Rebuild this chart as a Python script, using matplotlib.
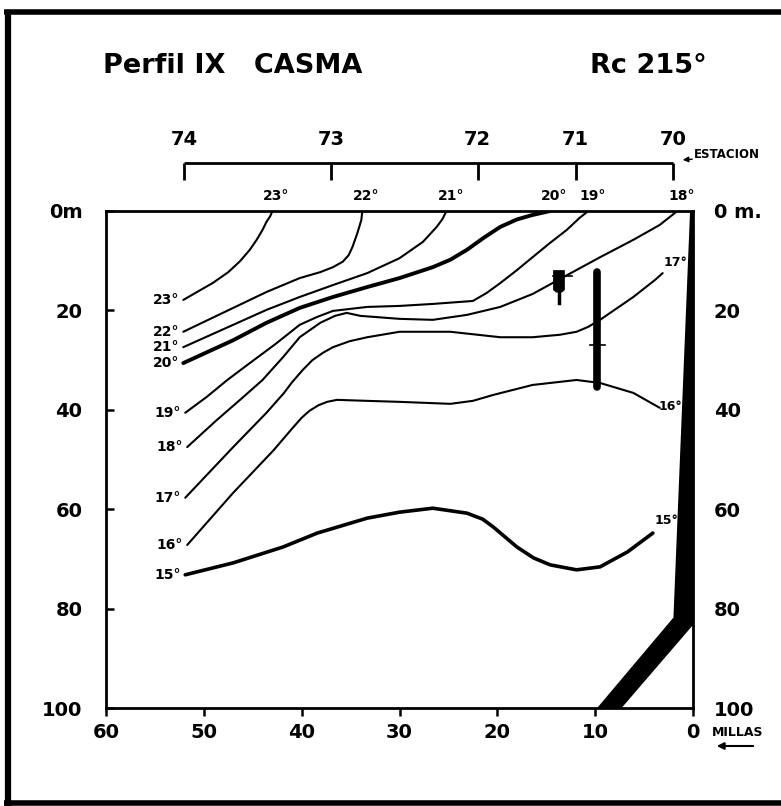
import matplotlib
matplotlib.use('Agg')
import matplotlib.pyplot as plt
from matplotlib.lines import Line2D

W, H = 781, 806
plt.rcParams['font.family'] = ['DejaVu Sans']

# ---------------- data ----------------
title_left = 'Perfil IX   CASMA'
title_right = 'Rc 215°'

stations = ['74', '73', '72', '71', '70']
station_miles = [52, 37, 22, 12, 2]

depth_ticks = [0, 20, 40, 60, 80, 100]
left_depth_labels = ['0m', '20', '40', '60', '80', '100']
right_depth_labels = ['0 m.', '20', '40', '60', '80', '100']
mile_ticks = [60, 50, 40, 30, 20, 10, 0]
mile_labels = ['60', '50', '40', '30', '20', '10', '0']

# isotherms (miles from coast, depth m)
iso23_m = [52.1, 50.7, 49.1, 47.5, 46.3, 45.3, 44.6, 44.0, 43.6, 43.2, 43.0]
iso23_d = [17.9, 16.3, 14.5, 12.3, 10.1, 7.8, 5.8, 3.8, 2.2, 1.0, 0.0]

iso22_m = [52.1, 47.0, 43.6, 40.2, 38.1, 36.8, 35.8, 35.2, 34.8, 34.3, 33.9, 33.8]
iso22_d = [24.3, 19.5, 16.3, 13.5, 12.3, 11.3, 10.2, 8.9, 7.2, 4.4, 1.8, 0.0]

iso21_m = [52.1, 47.0, 43.6, 40.2, 36.8, 33.3, 30.0, 27.6, 26.2, 25.6, 25.2]
iso21_d = [27.4, 22.9, 19.9, 17.3, 14.9, 12.5, 9.5, 6.2, 3.2, 1.6, 0.0]

iso20_m = [52.1, 47.0, 43.6, 40.2, 36.8, 33.3, 30.0, 26.6, 24.8, 23.1, 21.4, 19.7,
           18.0, 16.4, 14.6]
iso20_d = [30.6, 26.0, 22.5, 19.5, 17.3, 15.3, 13.5, 11.3, 9.8, 7.8, 5.4, 3.2,
           1.7, 0.8, 0.0]

iso19_m = [51.9, 49.7, 47.6, 45.3, 42.7, 40.2, 38.4, 36.8, 33.3, 30.0, 26.6, 22.5,
           21.1, 19.7, 18.0, 16.4, 14.6, 12.9, 11.6, 10.7]
iso19_d = [40.6, 37.4, 34.0, 30.6, 26.8, 22.9, 21.3, 20.1, 19.3, 19.1, 18.7, 18.1,
           16.5, 14.5, 11.9, 9.3, 6.4, 3.8, 1.4, 0.0]

iso18_m = [51.7, 48.7, 46.3, 44.0, 41.9, 40.2, 38.1, 36.6, 35.4, 34.0, 30.0, 26.6,
           23.1, 19.7, 16.4, 13.8, 9.5, 6.1, 3.4, 1.6]
iso18_d = [47.5, 42.1, 38.0, 34.0, 29.4, 25.4, 22.5, 21.1, 20.5, 21.1, 21.7, 21.9,
           20.9, 19.3, 16.7, 13.9, 9.3, 5.8, 2.8, 0.0]

iso17_m = [51.9, 47.0, 43.6, 41.8, 41.0, 39.9, 38.9, 37.8, 36.8, 35.1, 33.3, 30.0,
           24.8, 19.7, 16.4, 13.6, 11.9, 10.7, 9.5, 6.1, 3.9, 3.1]
iso17_d = [57.7, 47.5, 40.6, 36.6, 34.5, 32.0, 30.0, 28.5, 27.4, 26.2, 25.4, 24.3,
           24.3, 25.4, 25.4, 24.9, 24.3, 23.3, 21.9, 17.3, 13.9, 12.5]

iso16_m = [51.7, 47.0, 42.9, 40.9, 40.0, 39.2, 38.3, 37.4, 36.4, 33.3, 30.0,
           24.8, 22.5, 20.4, 16.4, 11.9, 9.5, 6.1, 3.4]
iso16_d = [67.2, 56.7, 48.2, 43.6, 41.6, 40.2, 39.1, 38.4, 38.0, 38.2, 38.4,
           38.8, 38.2, 37.0, 35.0, 34.0, 34.6, 36.6, 39.6]

iso15_m = [51.9, 47.0, 41.9, 38.4, 33.3, 30.0, 26.6, 23.1, 21.5, 20.4, 18.0, 16.3,
           14.6, 11.9, 9.5, 6.7, 4.1]
iso15_d = [73.2, 70.8, 67.6, 64.8, 61.8, 60.6, 59.8, 60.8, 62.0, 63.6, 67.6, 69.8,
           71.2, 72.2, 71.6, 68.6, 64.8]

# coast / bottom profile
coast_m = [0.3, 2.0, 9.8, 7.3, 0.0, 0.0]
coast_d = [0.0, 81.8, 100.0, 100.0, 83.3, 0.0]

# sampling marks near station 71
cast_m = [9.8, 9.8]
cast_d = [12.3, 35.4]
cast_tick_d = 27.0
bottle_m = [14.3, 13.1, 13.1, 13.4, 14.0, 14.3]
bottle_d = [11.9, 11.9, 15.9, 16.4, 16.4, 15.9]
bottle_stem_m = [13.7, 13.7]
bottle_stem_d = [16.0, 18.6]
bottle_tick_d = 13.1

# ---------------- figure ----------------
fig = plt.figure(figsize=(W / 100, H / 100), dpi=100)

def px(x, y):
    return x / W, 1 - y / H

ax_l, ax_r, ax_t, ax_b = 106, 693, 211, 708
ax = fig.add_axes([ax_l / W, 1 - ax_b / H, (ax_r - ax_l) / W, (ax_b - ax_t) / H])
ax.set_xlim(60, 0)
ax.set_ylim(100, 0)
for s in ax.spines.values():
    s.set_linewidth(2.0)
    s.set_color('black')

ax.set_xticks(mile_ticks)
ax.set_xticklabels(mile_labels)
ax.set_yticks(depth_ticks)
ax.set_yticklabels(left_depth_labels)
ax.tick_params(axis='x', direction='out', length=6, width=1.8, pad=5,
               labelsize=14)
ax.tick_params(axis='y', direction='in', length=6, width=1.8, pad=17,
               labelsize=14)
for lab in ax.get_xticklabels() + ax.get_yticklabels():
    lab.set_fontweight('bold')

ax2 = ax.twinx()
ax2.set_ylim(100, 0)
ax2.set_yticks(depth_ticks)
ax2.set_yticklabels(right_depth_labels)
ax2.tick_params(axis='y', length=0, pad=15, labelsize=14)
for lab in ax2.get_yticklabels():
    lab.set_fontweight('bold')
for s in ax2.spines.values():
    s.set_visible(False)

isotherms = [
    (23, iso23_m, iso23_d), (22, iso22_m, iso22_d), (21, iso21_m, iso21_d),
    (20, iso20_m, iso20_d), (19, iso19_m, iso19_d), (18, iso18_m, iso18_d),
    (17, iso17_m, iso17_d), (16, iso16_m, iso16_d), (15, iso15_m, iso15_d),
]
thick = {20: 2.8, 15: 2.6}
end_label = {17: (1, 8, 'left'), 16: (-1, 1, 'left'), 15: (1, 9, 'left')}

lab_kw = dict(fontsize=10, fontweight='bold', textcoords='offset points',
              annotation_clip=False)
for t, m, d in isotherms:
    ax.plot(m, d, color='black', lw=thick.get(t, 1.5),
            solid_joinstyle='round', solid_capstyle='round', zorder=3)
    ax.annotate(f'{t}°', xy=(m[0], d[0]), xytext=(-3, 0), ha='right',
                va='center', **lab_kw)
    if d[-1] == 0:
        ax.annotate(f'{t}°', xy=(m[-1], d[-1]), xytext=(3, 11), ha='center',
                    va='center', **lab_kw)
    elif t in end_label:
        dx, dy, ha = end_label[t]
        kw = dict(lab_kw)
        kw['fontsize'] = 9
        ax.annotate(f'{t}°', xy=(m[-1], d[-1]), xytext=(dx, dy), ha=ha,
                    va='center', zorder=5, **kw)

# coast
ax.fill(coast_m, coast_d, color='black', lw=0, zorder=4, clip_on=False)

# cast bar and bottle
ax.plot(cast_m, cast_d, color='black', lw=5.5, solid_capstyle='round', zorder=4)
ax.plot([cast_m[0] + 0.7, cast_m[0] - 0.8], [cast_tick_d, cast_tick_d],
        color='black', lw=1.2, zorder=4)
ax.fill(bottle_m, bottle_d, color='black', lw=0, zorder=4)
ax.plot(bottle_stem_m, bottle_stem_d, color='black', lw=2.5, zorder=4)
ax.plot([max(bottle_m), min(bottle_m) - 0.7], [bottle_tick_d, bottle_tick_d],
        color='black', lw=1.2, zorder=4)

# station axis above
st_y, st_tick, st_lab = -9.7, -6.2, -14.3
ax.plot([station_miles[0], station_miles[-1]], [st_y, st_y], color='black',
        lw=2.0, clip_on=False, solid_capstyle='butt')
for s, m in zip(stations, station_miles):
    ax.plot([m, m], [st_y, st_tick], color='black', lw=2.0, clip_on=False,
            solid_capstyle='butt')
    ax.text(m, st_lab, s, ha='center', va='center', fontsize=14,
            fontweight='bold', clip_on=False)

# titles and annotations
fig.text(*px(103, 66), title_left, ha='left', va='center', fontsize=19.5,
         fontweight='bold')
fig.text(*px(590, 66), title_right, ha='left', va='center', fontsize=19.5,
         fontweight='bold')
fig.text(*px(694, 155), 'ESTACION', ha='left', va='center', fontsize=8.5,
         fontweight='bold')
ax.annotate('', xy=(px(680, 160)), xytext=(px(695, 159)), xycoords='figure fraction',
            textcoords='figure fraction',
            arrowprops=dict(arrowstyle='-|>', color='black', lw=1.0,
                            mutation_scale=8))
fig.text(*px(712, 732), 'MILLAS', ha='left', va='center', fontsize=9,
         fontweight='bold')
ax.annotate('', xy=(px(714, 746)), xytext=(px(756, 746)), xycoords='figure fraction',
            textcoords='figure fraction',
            arrowprops=dict(arrowstyle='-|>', color='black', lw=1.5,
                            mutation_scale=10))

# page border
for (x0, y0, x1, y1, lw) in [(4, 12, 781, 12, 4.0), (8, 10, 8, 806, 4.5),
                              (4, 803, 781, 803, 4.0)]:
    fig.add_artist(Line2D([x0 / W, x1 / W], [1 - y0 / H, 1 - y1 / H],
                          color='black', lw=lw, solid_capstyle='butt'))

fig.savefig('out.png', dpi=100, facecolor='white')
